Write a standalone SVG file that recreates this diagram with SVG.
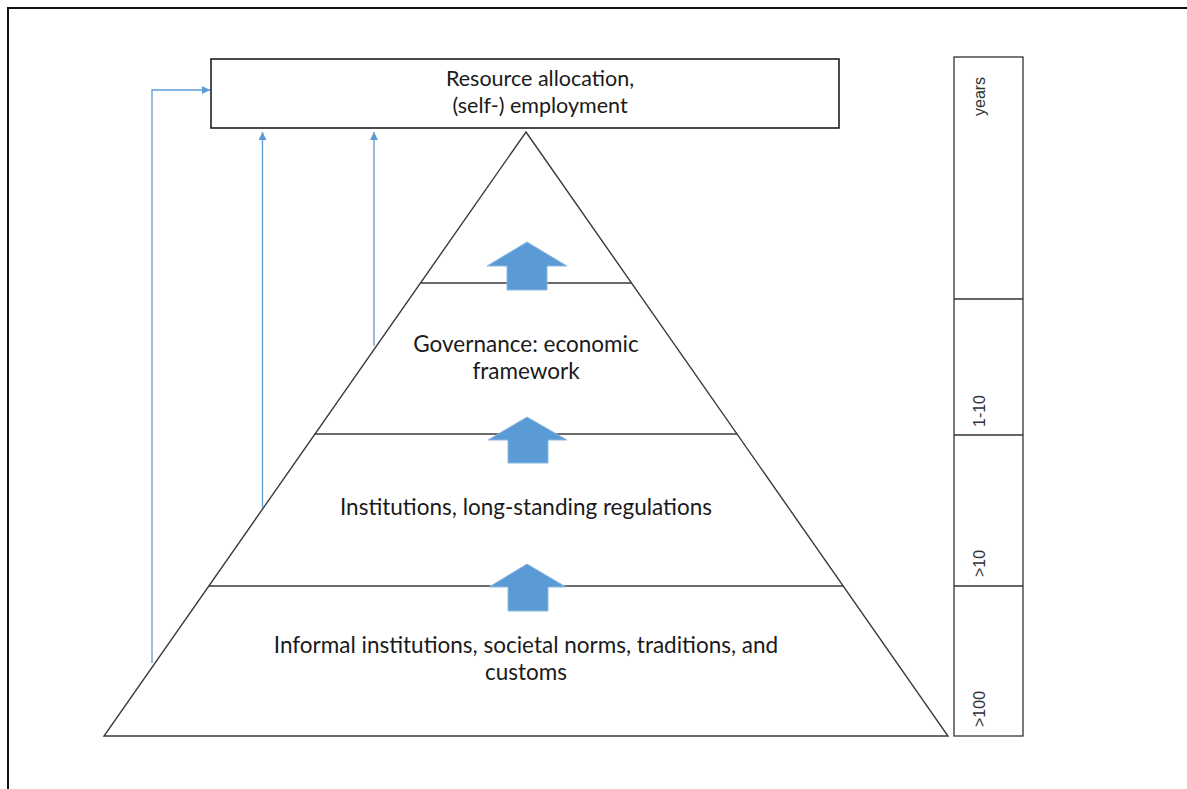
<svg xmlns="http://www.w3.org/2000/svg" width="1187" height="789" viewBox="0 0 1187 789">
<style>
.lbl{font-family:Lato,"Liberation Sans",sans-serif;font-size:22.5px;fill:#1a1a1a;text-anchor:middle}
.bx{font-size:21.5px}
.ax{font-family:"Liberation Sans",Arial,sans-serif;font-size:16px;fill:#333}
.pl{stroke:#3a3a3a;stroke-width:1.4;fill:none}
.conn{stroke:#5b9bd5;stroke-width:1.3;fill:none}
.blk{fill:#5b9bd5;stroke:#8fb8e0;stroke-width:1}
</style>
<defs>
<marker id="ah" viewBox="0 0 10 10" refX="10" refY="5" markerWidth="10" markerHeight="8" markerUnits="userSpaceOnUse" orient="auto">
<path d="M0,0 L10,5 L0,10 z" fill="#5b9bd5"/>
</marker>
</defs>
<rect width="1187" height="789" fill="#fff"/>
<g id="frame">
<path d="M7,8 H1187 M8,8 V789" stroke="#111" stroke-width="2" fill="none"/>
</g>
<g id="top-box">
<rect x="211" y="59" width="628" height="69" fill="#fff" stroke="#111" stroke-width="1.5"/>
<text class="lbl bx" x="540" y="86">Resource allocation,</text>
<text class="lbl bx" x="540" y="113">(self-) employment</text>
</g>
<g id="pyramid">
<polygon class="pl" points="526,132 948,736 104,736"/>
<line class="pl" x1="420.5" y1="283" x2="631.5" y2="283"/>
<line class="pl" x1="315" y1="434" x2="737" y2="434"/>
<line class="pl" x1="209" y1="586" x2="843" y2="586"/>
</g>
<g id="level-governance">
<text class="lbl" x="526" y="352">Governance: economic</text>
<text class="lbl" x="526" y="379">framework</text>
</g>
<g id="level-institutions">
<text class="lbl" x="526" y="515">Institutions, long-standing regulations</text>
</g>
<g id="level-informal">
<text class="lbl" x="526" y="653">Informal institutions, societal norms, traditions, and</text>
<text class="lbl" x="526" y="680">customs</text>
</g>
<g id="block-arrows">
<polygon class="blk" points="527,242 567,266 547,266 547,290 507,290 507,266 487,266"/>
<polygon class="blk" points="527,417 567,440 548,440 548,463 508,463 508,440 488,440"/>
<polygon class="blk" points="527,564 566,587 548,587 548,611 508,611 508,587 489,587"/>
</g>
<g id="connectors">
<path class="conn" d="M152,663 V90 H210" marker-end="url(#ah)"/>
<path class="conn" d="M262.5,508 V132" marker-end="url(#ah)"/>
<path class="conn" d="M374,346 V132" marker-end="url(#ah)"/>
</g>
<g id="time-scale">
<rect x="954" y="57" width="69" height="679" fill="none" stroke="#333" stroke-width="1.3"/>
<line x1="954" y1="299" x2="1023" y2="299" stroke="#333" stroke-width="1.3"/>
<line x1="954" y1="435" x2="1023" y2="435" stroke="#333" stroke-width="1.3"/>
<line x1="954" y1="586" x2="1023" y2="586" stroke="#333" stroke-width="1.3"/>
<text class="ax" transform="translate(985,116) rotate(-90)">years</text>
<text class="ax" transform="translate(985,427) rotate(-90)">1-10</text>
<text class="ax" transform="translate(985,577) rotate(-90)">&gt;10</text>
<text class="ax" transform="translate(985,727) rotate(-90)">&gt;100</text>
</g>
</svg>
